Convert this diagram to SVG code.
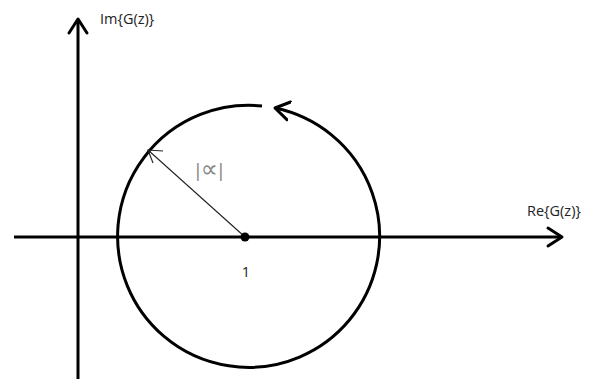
<svg xmlns="http://www.w3.org/2000/svg" width="605" height="379" viewBox="0 0 605 379">
<style>
.axis{stroke:#000;stroke-width:3;fill:none}
.head{stroke:#000;stroke-width:3;fill:none;stroke-linecap:round;stroke-linejoin:round}
.lbl{font-family:"Open Sans","DejaVu Sans",sans-serif;font-size:14.5px;fill:#222}
</style>
<defs>
<marker id="chev" markerUnits="userSpaceOnUse" markerWidth="30" markerHeight="30" refX="15" refY="15" orient="auto">
<polyline points="1,6 15,15 1,24" fill="none" stroke="#000" stroke-width="3" stroke-linecap="round" stroke-linejoin="round"/>
</marker>
</defs>
<rect width="605" height="379" fill="#fff"/>
<g id="connectors">
<g id="re-axis">
<line class="axis" x1="14" y1="237" x2="561" y2="237"/>
<polyline class="head" points="548,228 562,237 548,246"/>
</g>
<g id="im-axis">
<line class="axis" x1="78" y1="379" x2="78" y2="20"/>
<polyline class="head" points="69,33 78,19 87,33"/>
</g>
<g id="contour">
<path d="M 262 106 A 131 131 0 1 0 275 108" fill="none" stroke="#000" stroke-width="3" marker-end="url(#chev)"/>
</g>
<g id="radius">
<line x1="245" y1="237" x2="148" y2="150" stroke="#222" stroke-width="1.1"/>
<polyline points="163,151 148,150 153,163" fill="none" stroke="#222" stroke-width="1.1"/>
</g>
</g>
<g id="center-point">
<circle cx="245" cy="237" r="4.5" fill="#000"/>
<text class="lbl" x="246" y="277" text-anchor="middle">1</text>
</g>
<g id="labels">
<text class="lbl" x="100" y="24">Im{G(z)}</text>
<text class="lbl" x="527" y="216">Re{G(z)}</text>
<text x="195" y="177" style="font-family:'DejaVu Sans',sans-serif;font-size:17px;fill:#888">|<tspan style="font-size:24px">∝</tspan>|</text>
</g>
</svg>
